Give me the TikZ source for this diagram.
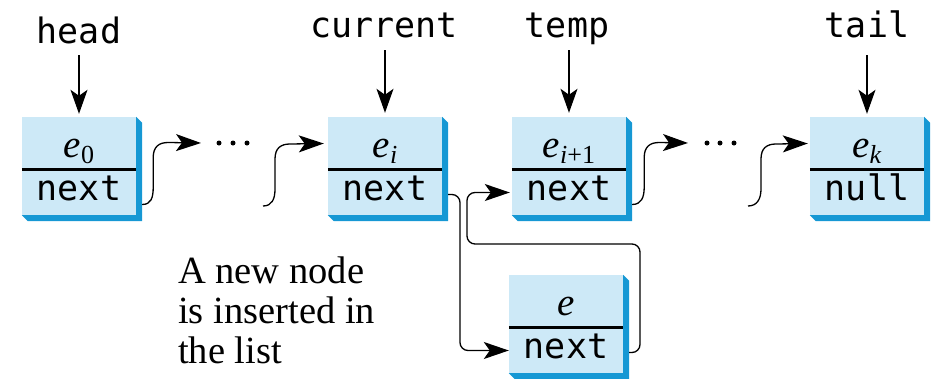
\documentclass[tikz,border=0pt]{standalone}
\usepackage{fontspec}
\setmainfont{Liberation Serif}
\setmonofont{DejaVu Sans Mono}
\usetikzlibrary{arrows.meta}
\definecolor{boxfill}{RGB}{205,233,247}
\definecolor{boxshade}{RGB}{22,152,212}
\newcommand\esub[1]{\textit{e}\raisebox{-6pt}{\fontsize{26}{26}\selectfont #1}}
\newcommand\lnode[5]{%
  \node[topbox] (#1t) at (#2+57,#3+26.5) {#4};
  \node[botbox] (#1b) at (#2+57,#3+75.5) {#5};
  \fill[boxshade] (#1t.north east) -- ++(6,6) -- ([shift={(6,6)}]#1b.south east)
     -- ([shift={(6,6)}]#1b.south west) -- (#1b.south west) -- (#1b.south east) -- cycle;
  \draw[line width=3pt] (#1b.north west) -- (#1b.north east);
}
\begin{document}
\begin{tikzpicture}[x=1pt,y=-1pt,
  topbox/.style={fill=boxfill, inner sep=0pt, minimum width=114pt,
     text height=40pt, text depth=13pt, font=\fontsize{39}{39}\selectfont},
  botbox/.style={fill=boxfill, inner sep=0pt, minimum width=114pt,
     text height=30pt, text depth=15pt, font=\ttfamily\fontsize{35}{35}\selectfont},
  lbl/.style={anchor=base, inner sep=1pt, font=\ttfamily\fontsize{35}{35}\selectfont},
  ptr/.style={line width=1.3pt, -{Stealth[length=24pt,width=17pt,inset=6pt]}},
  conn/.style={line width=1.3pt, -{Stealth[length=25pt,width=17pt,inset=6pt]}}
]
\useasboundingbox (0,0) rectangle (946,378);

\lnode{e0}{22}{117}{\esub{0}}{next}
\lnode{ei}{328}{117}{\esub{\textit{i}}}{next}
\lnode{ej}{512}{117}{\esub{\textit{i}+1}}{next}
\lnode{ek}{810}{117}{\esub{\textit{k}}}{null}
\lnode{en}{509}{275}{\textit{e}}{next}

% pointer labels
\node[lbl] (head) at (79,43) {head};
\node[lbl] (current) at (384,37) {current};
\node[lbl] (temp) at (567,37) {temp};
\node[lbl] (tail) at (867,37) {tail};

\draw[ptr] ([yshift=-12pt]head.base -| e0t.north) -- ([yshift=3pt]e0t.north);
\draw[ptr] ([yshift=-13pt]current.base -| eit.north) -- ([yshift=4pt]eit.north);
\draw[ptr] ([yshift=-13pt]temp.base -| ejt.north) -- ([yshift=4pt]ejt.north);
\draw[ptr] ([yshift=-18pt]tail.base -| ekt.north) -- ([yshift=3pt]ekt.north);

% dots
\coordinate (d1) at (201,143);
\coordinate (d2) at (263,206);
\coordinate (d3) at (688,143);
\coordinate (d4) at (748,206);
\foreach \x in {219,233,247} \fill (\x,143) circle (2.5pt);
\foreach \x in {707,720,734} \fill (\x,143) circle (2.5pt);

% S-curves
\draw[conn] ([xshift=6pt,yshift=-12pt]e0b.east)
  .. controls +(9,0) and +(0,10) .. ++(11,-17) -- ++(0,-30)
  .. controls +(0,-11) and +(-9,0) .. ++(15,-15) -- (d1);
\draw[conn] (d2)
  .. controls +(9,0) and +(0,10) .. ++(12,-17) -- ++(0,-30)
  .. controls +(0,-11) and +(-9,0) .. ++(15,-15) -- ([xshift=-4pt]eit.west);
\draw[conn] ([xshift=6pt,yshift=-12pt]ejb.east)
  .. controls +(9,0) and +(0,10) .. ++(12,-17) -- ++(0,-30)
  .. controls +(0,-11) and +(-9,0) .. ++(15,-15) -- (d3);
\draw[conn] (d4)
  .. controls +(9,0) and +(0,10) .. ++(13,-17) -- ++(0,-30)
  .. controls +(0,-11) and +(-9,0) .. ++(15,-15) -- ([xshift=-2pt]ekt.west);

% insertion connectors
\draw[conn, rounded corners=8pt] ([xshift=6pt,yshift=-2pt]eib.east) -| (460,300) |- (enb.west);
\draw[conn, rounded corners=8pt] ([xshift=6pt,yshift=-2pt]enb.east) -| (640,244) -| (467,220) |- ([xshift=-2pt]ejb.west);

% caption
\node[anchor=north west, align=left, inner sep=0pt, font=\fontsize{38.5}{40}\selectfont] (cap) at (178,257)
  {A new node\\is inserted in\\the list};
\end{tikzpicture}
\end{document}
